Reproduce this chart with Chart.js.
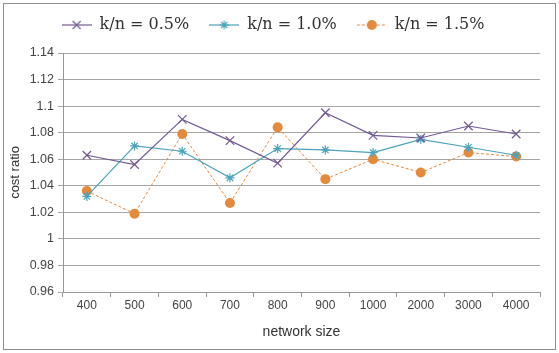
<!DOCTYPE html>
<html>
<head>
<meta charset="utf-8">
<script src="https://cdn.jsdelivr.net/npm/chart.js@4/dist/chart.umd.min.js"></script>
<style>
  body { margin: 0; background: #fff; }
  #box {
    position: absolute; left: 3px; top: 3px;
    width: 551px; height: 345px;
    border: 1px solid #8c8c8c;
  }
</style>
</head>
<body>
<div id="box"><canvas id="chart" width="551" height="345"></canvas></div>
<script>
// data
const sizes = ['400', '500', '600', '700', '800', '900', '1000', '2000', '3000', '4000'];
const seriesNames = ['k/n = 0.5%', 'k/n = 1.0%', 'k/n = 1.5%'];
const ratio05 = [1.063, 1.056, 1.090, 1.074, 1.057, 1.095, 1.078, 1.076, 1.085, 1.079];
const ratio10 = [1.032, 1.070, 1.066, 1.046, 1.068, 1.067, 1.065, 1.075, 1.069, 1.063];
const ratio15 = [1.036, 1.019, 1.079, 1.027, 1.084, 1.045, 1.060, 1.050, 1.065, 1.062];

const purple = '#725a95';
const teal = '#4aa3b9';
const orange = '#e38a3d';

// little line + marker sample for the legend
function legendIcon(color, dash, marker) {
  const c = document.createElement('canvas');
  c.width = 30; c.height = 14;
  const ctx = c.getContext('2d');
  ctx.strokeStyle = color;
  ctx.fillStyle = color;
  ctx.lineWidth = 1.2;
  ctx.setLineDash(dash);
  ctx.beginPath();
  ctx.moveTo(0, 7); ctx.lineTo(30, 7);
  ctx.stroke();
  ctx.setLineDash([]);
  ctx.beginPath();
  if (marker === 'crossRot') {
    ctx.moveTo(11, 3); ctx.lineTo(19, 11);
    ctx.moveTo(19, 3); ctx.lineTo(11, 11);
    ctx.stroke();
  } else if (marker === 'star') {
    ctx.moveTo(15, 2.5); ctx.lineTo(15, 11.5);
    ctx.moveTo(10.5, 7); ctx.lineTo(19.5, 7);
    ctx.moveTo(12, 4); ctx.lineTo(18, 10);
    ctx.moveTo(18, 4); ctx.lineTo(12, 10);
    ctx.stroke();
  } else {
    ctx.arc(15, 7, 5, 0, Math.PI * 2);
    ctx.fill();
  }
  return c;
}

const icons = [
  legendIcon(purple, [], 'crossRot'),
  legendIcon(teal, [], 'star'),
  legendIcon(orange, [3, 2], 'circle')
];

// legend: fixed height, items nudged up a bit
const legendSpacing = {
  id: 'legendSpacing',
  beforeInit(chart) {
    const fit = chart.legend.fit;
    chart.legend.fit = function () {
      fit.bind(chart.legend)();
      this.height = 49;
    };
  },
  afterLayout(chart) {
    chart.legend.top -= 7;
  }
};

new Chart(document.getElementById('chart'), {
  type: 'line',
  data: {
    labels: sizes,
    datasets: [
      {
        label: seriesNames[0], data: ratio05,
        borderColor: purple, backgroundColor: purple,
        borderWidth: 1.2, pointStyle: 'crossRot', pointRadius: 6,
        pointBorderWidth: 1.2, tension: 0
      },
      {
        label: seriesNames[1], data: ratio10,
        borderColor: teal, backgroundColor: teal,
        borderWidth: 1.2, pointStyle: 'star', pointRadius: 4.5,
        pointBorderWidth: 1.2, tension: 0
      },
      {
        label: seriesNames[2], data: ratio15,
        borderColor: orange, backgroundColor: orange,
        borderWidth: 1, borderDash: [3, 2], pointStyle: 'circle', pointRadius: 5,
        pointBorderWidth: 0, tension: 0
      }
    ]
  },
  plugins: [legendSpacing],
  options: {
    responsive: false,
    animation: false,
    layout: { padding: { left: 2, right: 15, top: 0, bottom: 4 } },
    plugins: {
      tooltip: { enabled: false },
      legend: {
        position: 'top',
        labels: {
          usePointStyle: true,
          pointStyleWidth: 30,
          padding: 20,
          color: '#333',
          font: { family: 'DejaVu Serif', size: 16 },
          generateLabels: chart => chart.data.datasets.map((ds, i) => ({
            text: ds.label,
            pointStyle: icons[i],
            fillStyle: ds.borderColor,
            strokeStyle: ds.borderColor,
            lineWidth: 0,
            datasetIndex: i,
            fontColor: '#333'
          }))
        }
      }
    },
    scales: {
      x: {
        offset: true,
        border: { color: '#999' },
        grid: { offset: true, drawOnChartArea: false, tickLength: 5, color: '#999' },
        ticks: { color: '#444', font: { family: 'Liberation Sans', size: 12 }, padding: 1 },
        title: {
          display: true, text: 'network size', color: '#333',
          font: { family: 'Liberation Sans', size: 14 }, padding: { top: 5 }
        },
        afterFit: s => { s.height = 53; }
      },
      y: {
        min: 0.96, max: 1.14,
        border: { color: '#999' },
        grid: { color: '#a6a6a6', tickLength: 5 },
        ticks: {
          stepSize: 0.02, color: '#444', padding: 4,
          font: { family: 'Liberation Sans', size: 12.5 },
          callback: v => parseFloat(v.toFixed(2)).toString()
        },
        title: {
          display: true, text: 'cost ratio', color: '#333',
          font: { family: 'Liberation Sans', size: 13 }, padding: 2
        },
        afterFit: s => { s.width = 57; }
      }
    }
  }
});
</script>
</body>
</html>
